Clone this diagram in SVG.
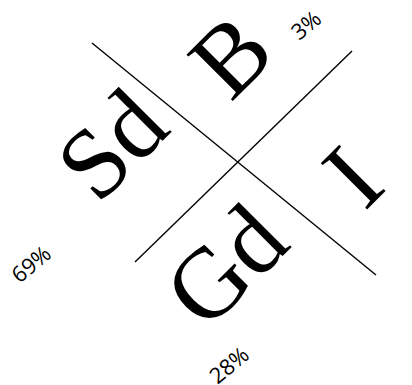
<svg xmlns="http://www.w3.org/2000/svg" width="412" height="385" viewBox="0 0 412 385">
<style>
.big{font-family:"Liberation Serif","Times New Roman",serif;font-size:100px;fill:#000;text-anchor:middle}
.pct{font-family:"Open Sans","Noto Sans",sans-serif;font-size:22px;fill:#000;text-anchor:middle}
.ln{stroke:#000;stroke-width:1.4;fill:none}
</style>
<rect width="412" height="385" fill="#fff"/>
<g id="connectors">
<line class="ln" x1="92" y1="43" x2="376" y2="275"/>
<line class="ln" x1="352" y1="51" x2="135" y2="262"/>
</g>
<g id="node-B"><text class="big" transform="translate(231,56) rotate(-45)" y="33">B</text></g>
<g id="node-Sd"><text class="big" transform="translate(112,145) rotate(-45)" y="33">Sd</text></g>
<g id="node-I"><text class="big" transform="translate(353,177) rotate(-45)" y="33">I</text></g>
<g id="node-Gd"><text class="big" transform="translate(226,266) rotate(-45)" y="33">Gd</text></g>
<g id="label-3"><text class="pct" transform="translate(306,25) rotate(-40)" y="8">3%</text></g>
<g id="label-69"><text class="pct" transform="translate(31,264) rotate(-40)" y="8">69%</text></g>
<g id="label-28"><text class="pct" transform="translate(229,365) rotate(-40)" y="8">28%</text></g>
<g id="label-0"><text class="pct" style="text-anchor:start" transform="translate(420,179) rotate(-40)">0%</text></g>
</svg>
